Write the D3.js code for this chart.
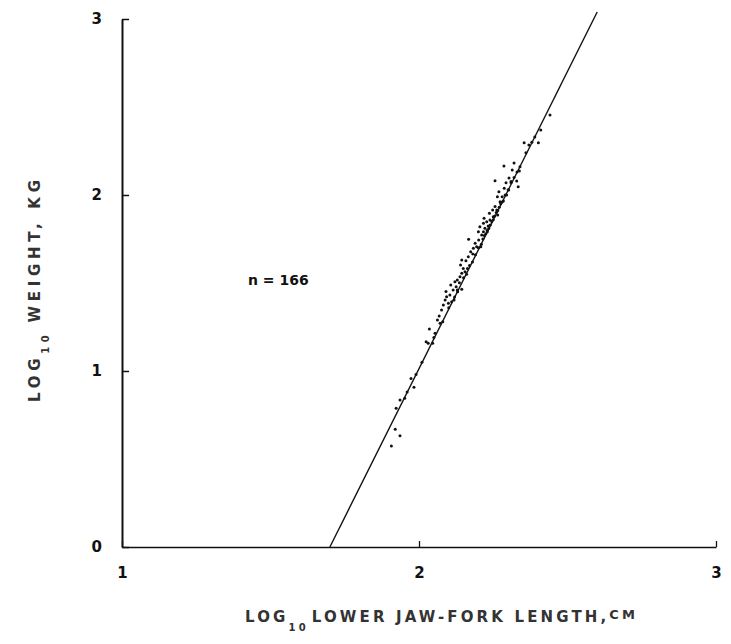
<!DOCTYPE html>
<html>
<head>
<meta charset="utf-8">
<script src="https://cdn.jsdelivr.net/npm/d3@7"></script>
<style>
  html, body { margin: 0; padding: 0; background: #fff; }
  svg { display: block; }
  .tick text { font-family: "DejaVu Sans", sans-serif; font-weight: bold; font-size: 15px; fill: #111; }
  .axis-label { font-family: "DejaVu Sans", sans-serif; font-weight: bold; fill: #333; }
</style>
</head>
<body>
<div id="chart"></div>
<script>
// ── Datos (log10 longitud mandíbula-horquilla, log10 peso) ──
const lengthLog = [
  2.441, 2.410, 2.402, 2.354, 2.370, 2.286, 2.320, 2.338, 2.314, 2.256,
  2.303, 2.310, 2.329, 2.293, 2.334, 2.269, 2.287, 2.302, 2.295, 2.280,
  2.264, 2.273, 2.284, 2.256, 2.248, 2.262, 2.265, 2.250, 2.237, 2.239,
  2.219, 2.228, 2.217, 2.233, 2.222, 2.205, 2.200, 2.217, 2.230, 2.211,
  2.167, 2.201, 2.189, 2.194, 2.183, 2.208, 2.174, 2.181, 2.166, 2.158,
  2.144, 2.140, 2.163, 2.149, 2.155, 2.144, 2.138, 2.129, 2.121, 2.136,
  2.107, 2.125, 2.144, 2.129, 2.115, 2.091, 2.104, 2.093, 2.088, 2.118,
  2.099, 2.082, 2.076, 2.068, 2.110, 2.062, 2.071, 2.035, 2.054, 2.046,
  2.024, 2.031, 1.973, 1.983, 1.952, 1.936, 1.923, 1.920, 1.936, 1.907,
  // puntos superpuestos sobre la recta
  2.05, 2.08, 2.10, 2.12, 2.13, 2.15, 2.16, 2.17, 2.18, 2.19,
  2.20, 2.21, 2.215, 2.22, 2.225, 2.23, 2.235, 2.24, 2.245, 2.25,
  2.255, 2.26, 2.265, 2.27, 2.275, 2.28, 2.29, 2.30, 2.31, 2.32,
  2.33, 2.34, 2.36, 2.38, 2.39, 2.01, 1.99, 1.96
];
const weightLog = [
  2.455, 2.369, 2.297, 2.297, 2.284, 2.165, 2.182, 2.136, 2.142, 2.081,
  2.097, 2.076, 2.080, 2.070, 2.047, 2.019, 2.038, 2.028, 2.000, 1.990,
  1.990, 1.962, 1.966, 1.934, 1.915, 1.915, 1.886, 1.877, 1.896, 1.858,
  1.868, 1.848, 1.839, 1.824, 1.811, 1.820, 1.791, 1.791, 1.791, 1.773,
  1.748, 1.744, 1.726, 1.706, 1.697, 1.706, 1.678, 1.665, 1.649, 1.627,
  1.631, 1.602, 1.583, 1.583, 1.564, 1.555, 1.536, 1.517, 1.507, 1.502,
  1.489, 1.479, 1.464, 1.460, 1.460, 1.451, 1.432, 1.422, 1.403, 1.403,
  1.385, 1.375, 1.347, 1.313, 1.394, 1.290, 1.271, 1.239, 1.214, 1.157,
  1.166, 1.157, 0.958, 0.907, 0.845, 0.835, 0.788, 0.669, 0.632, 0.574,
  1.19, 1.28, 1.36, 1.42, 1.45, 1.53, 1.55, 1.60, 1.62, 1.66,
  1.70, 1.72, 1.75, 1.77, 1.78, 1.80, 1.81, 1.83, 1.85, 1.86,
  1.88, 1.90, 1.91, 1.93, 1.95, 1.96, 2.00, 2.03, 2.07, 2.10,
  2.13, 2.16, 2.24, 2.30, 2.33, 1.05, 0.98, 0.88
];
// Recta de regresión (extremos)
const fitX = [1.70, 2.60];
const fitY = [0.00, 3.04];

const xTicks = [1, 2, 3];
const yTicks = [0, 1, 2, 3];
const sampleNote = 'n = 166';

// ── Lienzo ─────────────────────────────────────────────
const W = 731, H = 644;
const svg = d3.select('#chart').append('svg')
    .attr('width', W).attr('height', H)
    .style('background', '#fff');

const x = d3.scaleLinear().domain([1, 3]).range([122, 716]);
const y = d3.scaleLinear().domain([0, 3]).range([547, 19]);

// Ejes
const xAxis = svg.append('g')
    .attr('transform', `translate(0,${y(0)})`)
    .call(d3.axisBottom(x).tickValues(xTicks).tickFormat(d3.format('d'))
        .tickSizeInner(-6).tickSizeOuter(0).tickPadding(20));
xAxis.select('.domain').attr('stroke', '#111').attr('stroke-width', 1.4);
xAxis.selectAll('.tick line').attr('stroke', '#111').attr('stroke-width', 1.3);

const yAxis = svg.append('g')
    .attr('transform', `translate(${x(1)},0)`)
    .call(d3.axisLeft(y).tickValues(yTicks).tickFormat(d3.format('d'))
        .tickSizeInner(-7).tickSizeOuter(0).tickPadding(20));
yAxis.select('.domain').attr('stroke', '#111').attr('stroke-width', 2);
yAxis.selectAll('.tick line').attr('stroke', '#111').attr('stroke-width', 1.5);

// Recta
svg.append('line')
    .attr('x1', x(fitX[0])).attr('y1', y(fitY[0]))
    .attr('x2', x(fitX[1])).attr('y2', y(fitY[1]))
    .attr('stroke', '#111').attr('stroke-width', 1.4);

// Puntos
const pts = lengthLog.map((v, i) => ({ lx: v, wy: weightLog[i] }));
svg.append('g').selectAll('circle').data(pts).join('circle')
    .attr('cx', d => x(d.lx)).attr('cy', d => y(d.wy))
    .attr('r', 1.5).attr('fill', '#111');

// Nota n
svg.append('text')
    .attr('x', 248).attr('y', 285)
    .style('font-family', '"DejaVu Sans", sans-serif')
    .style('font-weight', 'bold').style('font-size', '14px')
    .style('fill', '#111')
    .text(sampleNote);

// Etiqueta eje X
const xl = svg.append('text').attr('class', 'axis-label')
    .attr('x', 245).attr('y', 622)
    .style('font-size', '15px');
xl.append('tspan').text('LOG');
xl.append('tspan').attr('dy', 9).style('font-size', '10px').text('10');
xl.append('tspan').attr('dy', -9).attr('dx', 3)
    .text('LOWER JAW-FORK LENGTH,');
xl.append('tspan').attr('dy', -3).style('font-size', '13px').text('CM');
xl.attr('textLength', 390).attr('lengthAdjust', 'spacing');

// Etiqueta eje Y
const yl = svg.append('text').attr('class', 'axis-label')
    .attr('transform', 'translate(40,402) rotate(-90)')
    .style('font-size', '15px');
yl.append('tspan').text('LOG');
yl.append('tspan').attr('dy', 9).style('font-size', '10px').text('10');
yl.append('tspan').attr('dy', -9).attr('dx', 8).text('WEIGHT, KG');
yl.attr('textLength', 222).attr('lengthAdjust', 'spacing');
</script>
</body>
</html>
